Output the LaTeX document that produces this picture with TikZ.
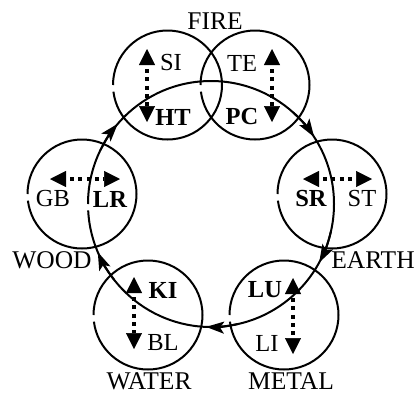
\documentclass[tikz,border=0pt]{standalone}
\usepackage{fontspec}
\setmainfont{Liberation Serif}
\usetikzlibrary{arrows.meta}
\begin{document}
\begin{tikzpicture}[x=1pt,y=-1pt,
  ring/.style={line width=2pt},
  cycarr/.style={line width=2pt, -{Stealth[length=18pt,width=12pt,inset=4pt]}},
  dotarr/.style={line width=4pt, dash pattern=on 4pt off 4.3pt, dash phase=4pt,
    {Triangle[width=16pt,length=16pt,line width=0.5pt]}-{Triangle[width=16pt,length=16pt,line width=0.5pt]}},
  organ/.style={font=\fontsize{24.5}{26}\selectfont, inner sep=0pt},
  yin/.style={font=\fontsize{24.5}{26}\selectfont\bfseries, inner sep=0pt},
  elem/.style={font=\fontsize{25.5}{27}\selectfont, inner sep=0pt},
]
\useasboundingbox (0,0) rectangle (420,394);

% centres
\coordinate (fl) at (167.5,85);
\coordinate (fr) at (255,85);
\coordinate (wo) at (82,194);
\coordinate (ea) at (332,194);
\coordinate (wa) at (148,315);
\coordinate (me) at (284,315);
\coordinate (bc) at (211,204);

% small circles
\draw[ring] (fl) ++(180:54.5) arc[start angle=180, end angle=533, radius=54.5];
\draw[ring] (fr) ++(180:54.5) arc[start angle=180, end angle=533, radius=54.5];
\draw[ring] (wo) ++(180:54.5) arc[start angle=180, end angle=533, radius=54.5];
\draw[ring] (ea) ++(180:54.5) arc[start angle=180, end angle=533, radius=54.5];
\draw[ring] (wa) ++(180:54.5) arc[start angle=180, end angle=533, radius=54.5];
\draw[ring] (me) ++(180:54.5) arc[start angle=180, end angle=533, radius=54.5];

% big cycle
\draw[ring] (bc) ++(180:123) arc[start angle=180, end angle=537, radius=123];
\draw[cycarr] (bc) ++(206:123) arc[start angle=206, end angle=220.7, radius=123];
\draw[cycarr] (bc) ++(312:123) arc[start angle=312, end angle=327, radius=123];
\draw[cycarr] (bc) ++(13:123)  arc[start angle=13,  end angle=28.4, radius=123];
\draw[cycarr] (bc) ++(77:123)  arc[start angle=77,  end angle=92.3, radius=123];
\draw[cycarr] (bc) ++(142:123) arc[start angle=142, end angle=157, radius=123];

% dotted arrows
\coordinate (flt) at (147,49);  \coordinate (flb) at (147,122);
\coordinate (frt) at (272,49);  \coordinate (frb) at (272,122);
\coordinate (wol) at (50,179);  \coordinate (wor) at (120,179);
\coordinate (eal) at (303,179); \coordinate (ear) at (372,179);
\coordinate (wat) at (134,277); \coordinate (wab) at (134,349);
\coordinate (met) at (293,278); \coordinate (meb) at (293,354);
\draw[dotarr] (flt) -- (flb);
\draw[dotarr] (frt) -- (frb);
\draw[dotarr] (wol) -- (wor);
\draw[dotarr] (eal) -- (ear);
\draw[dotarr] (wat) -- (wab);
\draw[dotarr] (met) -- (meb);

% organ labels
\node[organ] (si) at (171,63) {SI};
\node[organ] (te) at (242,63) {TE};
\node[yin]   (ht) at (173,117) {HT};
\node[yin]   (pc) at (242,117) {PC};
\node[organ] (gb) at (53,199) {GB};
\node[yin]   (lr) at (110,199) {LR};
\node[yin]   (sr) at (311,199) {SR};
\node[organ] (st) at (362,199) {ST};
\node[yin]   (ki) at (163,290) {KI};
\node[organ] (bl) at (163,343) {BL};
\node[yin]   (lu) at (265,290) {LU};
\node[organ] (li) at (267,343) {LI};

% element labels
\node[elem] (fire)  at (215,21)  {FIRE};
\node[elem] (wood)  at (52,260)  {WOOD};
\node[elem] (earth) at (373,260) {EARTH};
\node[elem] (water) at (149,381) {WATER};
\node[elem] (metal) at (291,381) {METAL};
\end{tikzpicture}
\end{document}
